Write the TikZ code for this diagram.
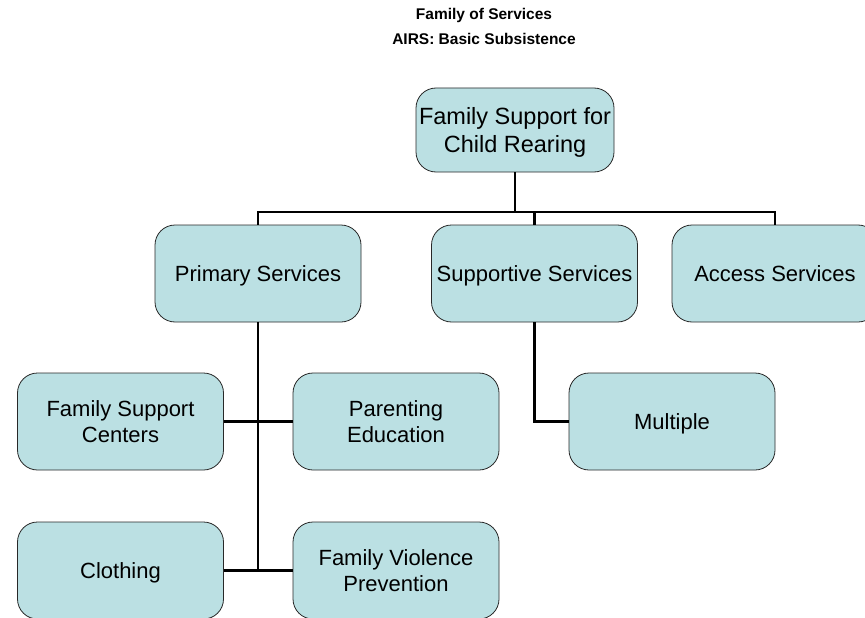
\documentclass[tikz,border=0pt]{standalone}
\usepackage{fontspec}
\setmainfont{Liberation Sans}
\usepackage{xcolor}
\definecolor{boxfill}{RGB}{187,224,227}
\definecolor{boxline}{RGB}{40,40,40}

\begin{document}
\begin{tikzpicture}[x=1pt,y=-1pt,
  box/.style={draw=boxline,line width=0.8pt,fill=boxfill,rounded corners=20pt,
    minimum width=206pt,minimum height=97pt,align=center,inner sep=2pt,text depth=0pt,
    font=\fontsize{22}{26}\selectfont},
  link/.style={line width=2.8pt,black}]
\useasboundingbox (0,0) rectangle (865,618);
\node[font=\bfseries\fontsize{15.5}{25}\selectfont,align=center] (title) at (484,26) {Family of Services\\AIRS: Basic Subsistence};
\node[box,minimum width=198pt,minimum height=84pt,font=\fontsize{23.5}{28}\selectfont] (top) at (515,130) {Family Support for\\Child Rearing};
\node[box] (prim) at (258,273.5) {Primary Services};
\node[box] (supp) at (534.5,273.5) {Supportive Services};
\node[box] (acc) at (775,273.5) {Access Services};
\node[box] (fsc) at (120.5,421.5) {Family Support\\Centers};
\node[box] (par) at (396,421.5) {Parenting\\Education};
\node[box] (mult) at (672,421.5) {Multiple};
\node[box] (cloth) at (120.5,570.5) {Clothing};
\node[box] (fvp) at (396,570.5) {Family Violence\\Prevention};
\coordinate (split) at (515,212);
\coordinate (trunk) at (258,570.5);
\draw[link] (top.south) -- (split);
\draw[link] (prim.north) |- (split) -| (acc.north);
\draw[link] (split) -| (supp.north);
\draw[link] (prim.south) -- (trunk);
\draw[link] (fsc.east) -- (par.west);
\draw[link] (cloth.east) -- (fvp.west);
\draw[link] (supp.south) |- (mult.west);
\end{tikzpicture}
\end{document}
